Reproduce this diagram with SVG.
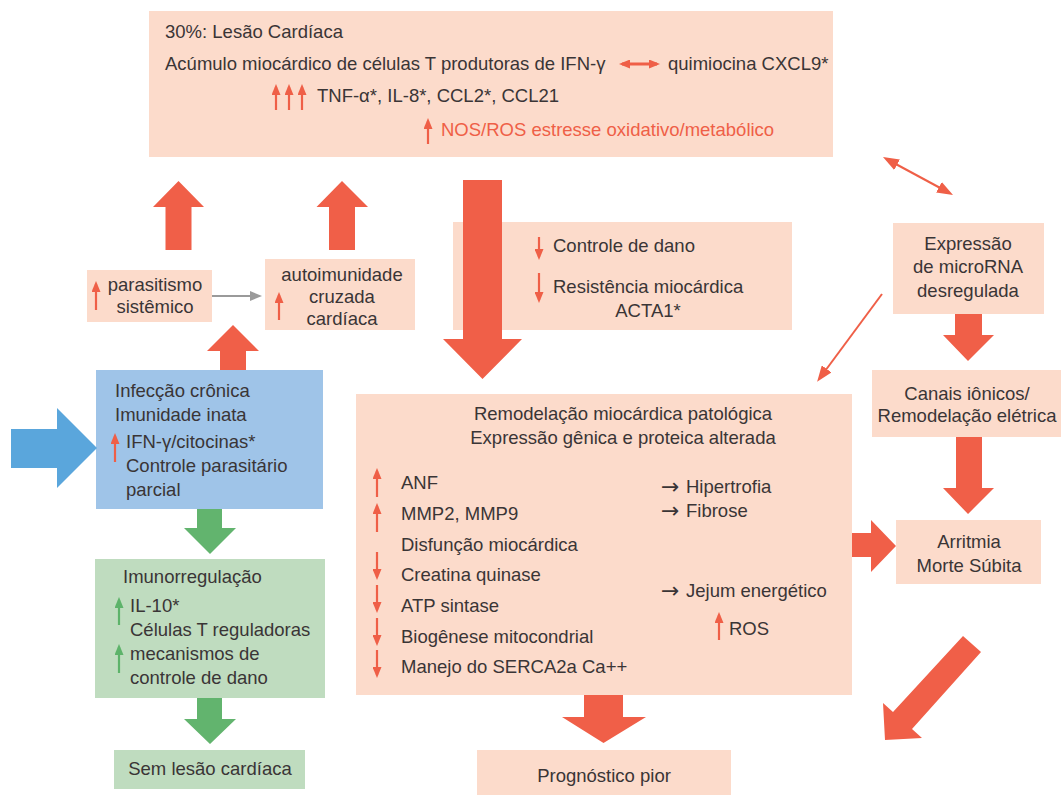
<svg xmlns="http://www.w3.org/2000/svg" width="1063" height="796" viewBox="0 0 1063 796">
<style>
.t{font-family:"Liberation Sans",Arial,sans-serif;font-size:18.5px;fill:#3a3536}
.ar{font-family:"DejaVu Sans",sans-serif;font-size:22px}
.c{text-anchor:middle}
.r{fill:#ef5f47}
.pe{fill:#fcdbcb}
.bl{fill:#9fc4e8}
.gb{fill:#bfdcbf}
.big{fill:#f05f48}
.ga{fill:#62b46e}
.ba{fill:#5aa6dc}
.sr{stroke:#ef5f47;stroke-width:2.2;fill:none;marker-end:url(#mr)}
.sg{stroke:#5db36a;stroke-width:2.2;fill:none;marker-end:url(#mg)}
</style>
<defs>
<marker id="mr" viewBox="0 0 11 9" refX="8" refY="4.5" markerWidth="11" markerHeight="9" markerUnits="userSpaceOnUse" orient="auto-start-reverse"><path d="M0,0 L11,4.5 L0,9 z" fill="#ef5f47"/></marker>
<marker id="mg" viewBox="0 0 11 9" refX="8" refY="4.5" markerWidth="11" markerHeight="9" markerUnits="userSpaceOnUse" orient="auto"><path d="M0,0 L11,4.5 L0,9 z" fill="#5db36a"/></marker>
<marker id="mgr" viewBox="0 0 12 10" refX="9" refY="5" markerWidth="12" markerHeight="10" markerUnits="userSpaceOnUse" orient="auto"><path d="M0,0 L12,5 L0,10 z" fill="#9a9a9a"/></marker>
<marker id="mb" viewBox="0 0 16 12" refX="12" refY="6" markerWidth="16" markerHeight="12" markerUnits="userSpaceOnUse" orient="auto-start-reverse"><path d="M0,0 L16,6 L0,12 z" fill="#ef5f47"/></marker>
</defs>

<g id="lesao">
<rect class="pe" x="149" y="11" width="684" height="146"/>
<text class="t" x="165" y="38">30%: Lesão Cardíaca</text>
<text class="t" x="165" y="70">Acúmulo miocárdico de células T produtoras de IFN-γ</text>
<line x1="622" y1="64" x2="657" y2="64" stroke="#ef5f47" stroke-width="3" marker-start="url(#mr)" marker-end="url(#mr)"/>
<text class="t" x="668" y="70">quimiocina CXCL9*</text>
<line class="sr" x1="276" y1="110" x2="276" y2="87"/>
<line class="sr" x1="289" y1="110" x2="289" y2="87"/>
<line class="sr" x1="302" y1="110" x2="302" y2="87"/>
<text class="t" x="317" y="102">TNF-α*, IL-8*, CCL2*, CCL21</text>
<line class="sr" x1="428" y1="144" x2="428" y2="121"/>
<text class="t r" x="441" y="136">NOS/ROS estresse oxidativo/metabólico</text>
</g>

<g id="parasitismo">
<rect class="pe" x="87" y="270" width="125" height="52"/>
<line class="sr" x1="96" y1="310" x2="96" y2="284"/>
<text class="t c" x="155" y="291">parasitismo</text>
<text class="t c" x="155" y="313">sistêmico</text>
</g>

<g id="autoimunidade">
<rect class="pe" x="265" y="259" width="150" height="71"/>
<line class="sr" x1="279" y1="320" x2="279" y2="295"/>
<text class="t c" x="342" y="281">autoimunidade</text>
<text class="t c" x="342" y="303">cruzada</text>
<text class="t c" x="342" y="325">cardíaca</text>
</g>

<g id="infeccao">
<rect class="bl" x="96" y="370" width="227" height="139"/>
<text class="t" x="115" y="397">Infecção crônica</text>
<text class="t" x="115" y="421">Imunidade inata</text>
<line class="sr" x1="115" y1="462" x2="115" y2="436"/>
<text class="t" x="126" y="448">IFN-γ/citocinas*</text>
<text class="t" x="126" y="472">Controle parasitário</text>
<text class="t" x="126" y="496">parcial</text>
</g>

<g id="imunorregulacao">
<rect class="gb" x="95" y="559" width="230" height="139"/>
<text class="t" x="123" y="583">Imunorregulação</text>
<line class="sg" x1="119" y1="625" x2="119" y2="600"/>
<text class="t" x="130" y="612">IL-10*</text>
<text class="t" x="130" y="636">Células T reguladoras</text>
<line class="sg" x1="119" y1="673" x2="119" y2="647"/>
<text class="t" x="130" y="660">mecanismos de</text>
<text class="t" x="130" y="684">controle de dano</text>
</g>

<g id="semlesao">
<rect class="gb" x="114" y="750" width="191" height="39"/>
<text class="t c" x="210" y="775">Sem lesão cardíaca</text>
</g>

<g id="controle">
<rect class="pe" x="453" y="222" width="339" height="108"/>
<line class="sr" x1="539" y1="237" x2="539" y2="257"/>
<text class="t" x="553" y="252">Controle de dano</text>
<line class="sr" x1="539" y1="273" x2="539" y2="300"/>
<text class="t" x="553" y="293">Resistência miocárdica</text>
<text class="t c" x="648" y="317">ACTA1*</text>
</g>

<g id="remodelacao">
<rect class="pe" x="356" y="394" width="496" height="301"/>
<text class="t c" x="623" y="420">Remodelação miocárdica patológica</text>
<text class="t c" x="623" y="444">Expressão gênica e proteica alterada</text>
<line class="sr" x1="377" y1="497" x2="377" y2="471"/>
<text class="t" x="401" y="489">ANF</text>
<line class="sr" x1="377" y1="532" x2="377" y2="506"/>
<text class="t" x="401" y="520">MMP2, MMP9</text>
<text class="t" x="401" y="551">Disfunção miocárdica</text>
<line class="sr" x1="377" y1="552" x2="377" y2="577"/>
<text class="t" x="401" y="581">Creatina quinase</text>
<line class="sr" x1="377" y1="585" x2="377" y2="610"/>
<text class="t" x="401" y="612">ATP sintase</text>
<line class="sr" x1="377" y1="618" x2="377" y2="643"/>
<text class="t" x="401" y="643">Biogênese mitocondrial</text>
<line class="sr" x1="377" y1="650" x2="377" y2="675"/>
<text class="t" x="401" y="673">Manejo do SERCA2a Ca++</text>
<text class="t" x="661" y="494"><tspan class="ar">→</tspan> <tspan x="686" y="493">Hipertrofia</tspan></text>
<text class="t" x="661" y="518"><tspan class="ar">→</tspan> <tspan x="686" y="517">Fibrose</tspan></text>
<text class="t" x="661" y="598"><tspan class="ar">→</tspan> <tspan x="686" y="597">Jejum energético</tspan></text>
<line class="sr" x1="719" y1="640" x2="719" y2="615"/>
<text class="t" x="729" y="635">ROS</text>
</g>

<g id="microrna">
<rect class="pe" x="893" y="223" width="151" height="91"/>
<text class="t c" x="968" y="250">Expressão</text>
<text class="t c" x="968" y="273">de microRNA</text>
<text class="t c" x="968" y="297">desregulada</text>
</g>

<g id="canais">
<rect class="pe" x="872" y="370" width="189" height="67"/>
<text class="t c" x="967" y="400">Canais iônicos/</text>
<text class="t c" x="967" y="422">Remodelação elétrica</text>
</g>

<g id="arritmia">
<rect class="pe" x="896" y="520" width="145" height="64"/>
<text class="t c" x="969" y="548">Arritmia</text>
<text class="t c" x="969" y="572">Morte Súbita</text>
</g>

<g id="prognostico">
<rect class="pe" x="477" y="750" width="254" height="45"/>
<text class="t c" x="604" y="782">Prognóstico pior</text>
</g>

<g id="connectors">
<polygon class="big" points="165.5,250 165.5,207 153,207 178.5,181 204,207 191.5,207 191.5,250"/>
<polygon class="big" points="329,250 329,207 316.5,207 342,181 368,207 355,207 355,250"/>
<polygon class="big" points="220,370 220,351 207,351 233,325 259,351 246,351 246,370"/>
<polygon class="ba" points="11,429 57,429 57,408 97,448 57,488 57,468 11,468"/>
<polygon class="ga" points="197,509 222,509 222,528 236,528 210,554 184,528 197,528"/>
<polygon class="ga" points="197,698 222,698 222,719 236,719 210,744 184,719 197,719"/>
<polygon class="big" points="463,180 502,180 502,339 522,339 482.5,379 443,339 463,339"/>
<polygon class="big" points="955,314 982,314 982,335 994,335 968,361 943,335 955,335"/>
<polygon class="big" points="956,437 982,437 982,488 994,488 968,514 943,488 956,488"/>
<polygon class="big" points="852,533 871,533 871,520 896,546 871,572 871,557 852,557"/>
<polygon class="big" points="963,636 981,652 912,729 922,738 885,740 883,703 893,712"/>
<polygon class="big" points="584,695 623,695 623,717 646,717 603.5,743 562,717 584,717"/>
<line x1="212" y1="296" x2="259" y2="296" stroke="#9a9a9a" stroke-width="2" marker-end="url(#mgr)"/>
<line x1="882" y1="294" x2="819.5" y2="378.5" stroke="#ef5f47" stroke-width="2" marker-end="url(#mb)"/>
<line x1="886.5" y1="159" x2="949.5" y2="193" stroke="#ef5f47" stroke-width="2" marker-start="url(#mb)" marker-end="url(#mb)"/>
</g>
</svg>
